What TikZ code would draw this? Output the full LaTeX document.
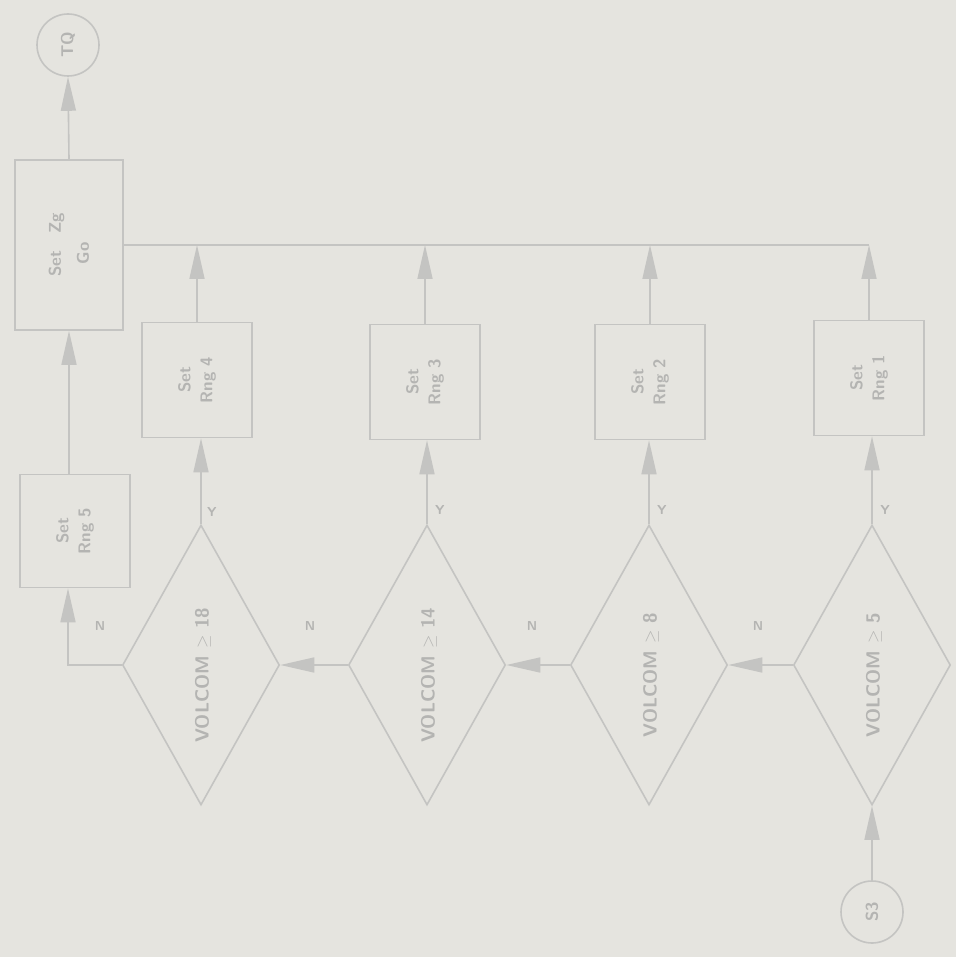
\documentclass[tikz,border=0pt]{standalone}
\usetikzlibrary{shapes.geometric,arrows.meta}
\definecolor{bgc}{HTML}{E5E4DF}
\definecolor{lnc}{HTML}{C4C4C2}
\definecolor{txc}{HTML}{B4B4B2}
\tikzset{
  lin/.style={draw=lnc,line width=1.6pt},
  arr/.style={lin,-{Triangle[length=34pt,width=15pt,fill=lnc]}},
  boxn/.style={lin,rectangle,minimum width=110pt,minimum height=115pt,inner sep=0pt},
  bigbox/.style={lin,rectangle,minimum width=108pt,minimum height=170pt,inner sep=0pt},
  dia/.style={lin,diamond,minimum width=157pt,minimum height=280pt,inner sep=0pt},
  conn/.style={lin,circle,minimum size=62pt,inner sep=0pt},
  rtxt/.style={text=txc,rotate=90,font=\sffamily\bfseries\fontsize{17}{22}\selectfont,align=center,inner sep=0pt},
  dtxt/.style={rtxt,font=\sffamily\bfseries\fontsize{19}{22}\selectfont},
  lbl/.style={text=txc,font=\sffamily\bfseries\fontsize{13}{15}\selectfont,inner sep=0pt}
}
\begin{document}
\begin{tikzpicture}[x=1pt,y=-1pt]
\fill[bgc] (0,0) rectangle (956,957);
\useasboundingbox (0,0) rectangle (956,957);
% connectors
\node[conn] (tq) at (68,45) {};
\node[rtxt] (tqt) at (tq) {TQ};
\node[conn] (s3) at (872,912) {};
\node[rtxt] (s3t) at (s3) {S3};
% big box
\node[bigbox] (big) at (69,245) {};
\node[rtxt] (bigt) at (big) {Set\quad Zg\\[6pt] Go\quad\ };
% top row boxes
\node[boxn] (b1) at (197,380) {};
\node[boxn] (b2) at (425,382) {};
\node[boxn] (b3) at (650,382) {};
\node[boxn] (b4) at (869,378) {};
\node[rtxt] (b1t) at (b1) {Set\\ Rng 4};
\node[rtxt] (b2t) at (b2) {Set\\ Rng 3};
\node[rtxt] (b3t) at (b3) {Set\\ Rng 2};
\node[rtxt] (b4t) at (b4) {Set\\ Rng 1};
% bottom-left box
\node[boxn,minimum width=110pt,minimum height=113pt] (bs) at (75,531) {};
\node[rtxt] (bst) at (bs) {Set\\ Rng 5};
% diamonds
\node[dia] (d1) at (201,665) {};
\node[dia] (d2) at (427,665) {};
\node[dia] (d3) at (649,665) {};
\node[dia] (d4) at (872,665) {};
\node[dtxt] (d1t) at (203,675) {VOLCOM $\geq$ 18};
\node[dtxt] (d2t) at (429,675) {VOLCOM $\geq$ 14};
\node[dtxt] (d3t) at (651,675) {VOLCOM $\geq$ 8};
\node[dtxt] (d4t) at (874,675) {VOLCOM $\geq$ 5};
% bus
\coordinate (busR) at (869,245);
\draw[lin] (big.east) -- (busR);
\draw[arr] (b1.north) -- (b1.north |- busR);
\draw[arr] (b2.north) -- (b2.north |- busR);
\draw[arr] (b3.north) -- (b3.north |- busR);
\draw[arr] (b4.north) -- (busR);
\draw[arr] (big.north) -- (tq.south);
% diamonds to boxes
\draw[arr] (d1.north) -- (b1.south -| d1.north);
\draw[arr] (d2.north) -- (b2.south -| d2.north);
\draw[arr] (d3.north) -- (b3.south -| d3.north);
\draw[arr] (d4.north) -- (b4.south -| d4.north);
% diamond chain
\draw[arr] (d4.west) -- (d3.east);
\draw[arr] (d3.west) -- (d2.east);
\draw[arr] (d2.west) -- (d1.east);
\coordinate (bend) at (68,665);
\draw[arr] (d1.west) -- (bend) -- (bend |- bs.south);
\draw[arr] (bs.north -| big.south) -- (big.south);
\draw[arr] (s3.north) -- (d4.south);
% labels
\node[lbl] (y1) at (212,512) {Y};
\node[lbl] (y2) at (440,510) {Y};
\node[lbl] (y3) at (662,510) {Y};
\node[lbl] (y4) at (885,510) {Y};
\node[lbl] (n1) at (100,626) {N};
\node[lbl] (n2) at (310,626) {N};
\node[lbl] (n3) at (532,626) {N};
\node[lbl] (n4) at (758,626) {N};
\end{tikzpicture}
\end{document}
